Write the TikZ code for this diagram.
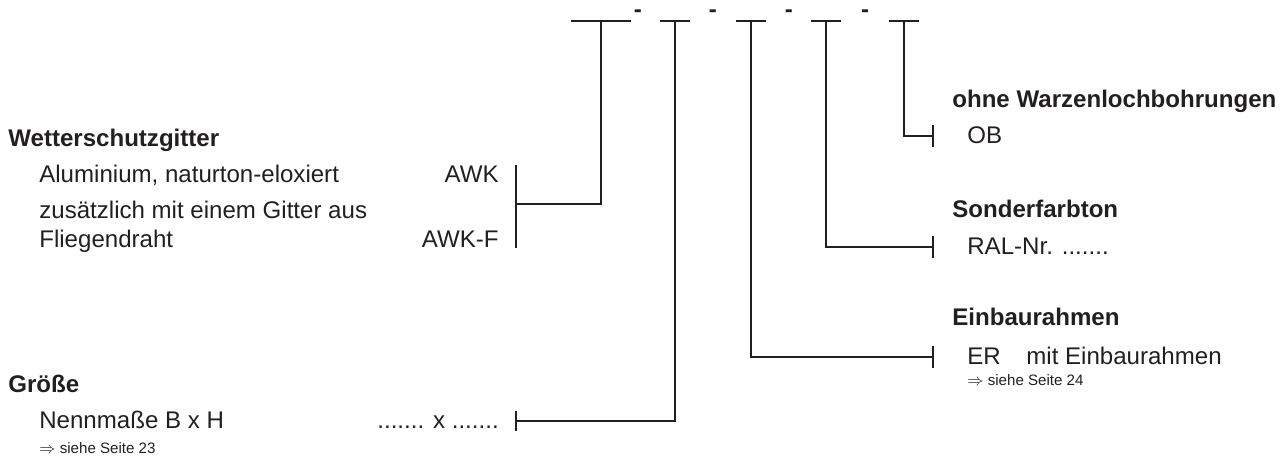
\documentclass[tikz,border=0pt]{standalone}
\usepackage{fontspec}
\setmainfont{Liberation Sans}
\usetikzlibrary{positioning}
\definecolor{inkgray}{RGB}{35,31,32}
\newcommand{\itemsize}{\fontsize{13.7}{16}\selectfont}
\newcommand{\notesize}{\fontsize{8.6}{10}\selectfont}

\begin{document}
\begin{tikzpicture}[x=0.02cm, y=-0.02cm,
    head/.style={anchor=base west, inner sep=0pt, font=\itemsize\bfseries, text=inkgray},
    item/.style={anchor=base west, inner sep=0pt, font=\itemsize, text=inkgray},
    code/.style={anchor=base east, inner sep=0pt, font=\itemsize, text=inkgray},
    note/.style={anchor=base west, inner sep=0pt, font=\notesize, text=inkgray},
    sepmark/.style={anchor=base, inner sep=0pt, font=\itemsize\bfseries, text=inkgray},
    link/.style={line width=0.6pt, inkgray},
    bar/.style={line width=1.1pt, inkgray}]
    \useasboundingbox (0,0) rectangle (1282,467);

    % order code fields
    \coordinate (s1) at (601,21);
    \draw[bar] (s1) ++(-30,0) -- ++(60,0);
    \foreach \n/\x in {2/675,3/751,4/826,5/904} {
        \coordinate (s\n) at (\x,21);
        \draw[bar] (s\n) ++(-15,0) -- ++(30,0);
    }
    \foreach \n/\x in {1/638,2/713,3/789,4/865}
        \node[sepmark] (d\n) at (\x,17) {-};

    % left side
    \node[head] (wsg) at (8,146) {Wetterschutzgitter};
    \node[item] (alu) at (39,182) {Aluminium, naturton-eloxiert};
    \node[code] (awk) at (499,182) {AWK};
    \node[item] (zus) at (39,218) {zusätzlich mit einem Gitter aus};
    \node[item] (fli) at (39,247) {Fliegendraht};
    \node[code] (awkf) at (499,247) {AWK-F};

    \node[head] (gro) at (8,392) {Größe};
    \node[item] (nen) at (39,428) {Nennmaße B x H};
    \node[code] (bxh) at (499,428) {....... x .......};
    \node[note] (s23) at (39,453) {$\Rightarrow$ siehe Seite 23};

    % right side
    \node[head] (owb) at (952,107) {ohne Warzenlochbohrungen};
    \node[item] (ob) at (967,143) {OB};
    \node[head] (sft) at (952,217) {Sonderfarbton};
    \node[item] (ral) at (967,254) {RAL-Nr. .......};
    \node[head] (ebr) at (952,325) {Einbaurahmen};
    \node[item] (er) at (967,364) {ER};
    \node[item] (mer) at (1026,364) {mit Einbaurahmen};
    \node[note] (s24) at (967,385) {$\Rightarrow$ siehe Seite 24};

    % connectors
    \coordinate (k1) at (516,204);
    \coordinate (k2) at (516,421);
    \coordinate (k3) at (933,357);
    \coordinate (k4) at (933,247);
    \coordinate (k5) at (933,136);
    \draw[link] (s1) |- (k1);
    \draw[link] (s2) |- (k2);
    \draw[link] (s3) |- (k3);
    \draw[link] (s4) |- (k4);
    \draw[link] (s5) |- (k5);
    \draw[link] (k1) ++(0,-39) -- ++(0,83);
    \draw[link] (k2) ++(0,-10) -- ++(0,20);
    \foreach \k in {k3,k4,k5}
        \draw[link] (\k) ++(0,-11) -- ++(0,22);
\end{tikzpicture}
\end{document}
